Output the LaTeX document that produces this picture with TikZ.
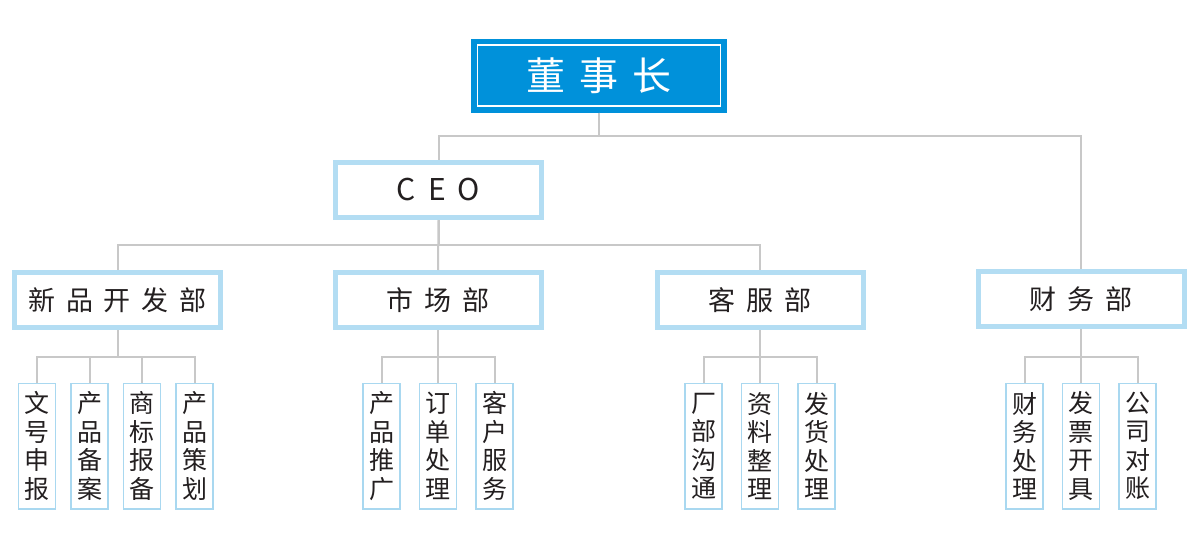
\documentclass[tikz,border=0pt]{standalone}
\usepackage{fontspec}
\setmainfont{Noto Sans CJK SC}
\usetikzlibrary{positioning}
\definecolor{boardblue}{HTML}{0091DA}
\definecolor{frameblue}{HTML}{B3DDF3}
\definecolor{leafblue}{HTML}{A9D8F0}
\definecolor{linkgray}{HTML}{C8C8C8}
\definecolor{inkblack}{HTML}{231F20}
\newcommand{\ws}{\hspace{0.4em}}

\begin{document}
\begin{tikzpicture}[
x=1pt, y=-1pt,
board/.style={rectangle, fill=boardblue, draw=white, line width=1.2pt, preaction={draw=boardblue, line width=13pt}, minimum width=243, minimum height=61, inner sep=0, outer sep=6.5pt, text=white, font=\fontsize{39}{39}\selectfont},
dept/.style={rectangle, draw=frameblue, fill=white, line width=5pt, minimum width=206, minimum height=55, inner sep=0, text=inkblack, font=\fontsize{27}{27}\selectfont},
head/.style={dept, font=\fontsize{30}{30}\selectfont},
leaf/.style={rectangle, draw=leafblue, fill=white, line width=1.5pt, minimum width=37, minimum height=125.5, inner sep=0, align=center, text=inkblack, font=\fontsize{25}{28.5}\selectfont},
link/.style={draw=linkgray, line width=2pt},
node distance=18pt
]
\useasboundingbox (0,0) rectangle (1200,533);
%Nodes
\node[board]  (board)  at (599,75.5)   {董\hspace{14pt}事\hspace{14pt}长};
\node[head]   (ceo)    at (438.5,190)  {C\ws E\ws O};

\node[dept]   (dev)    at (117.5,300)  {新\ws 品\ws 开\ws 发\ws 部};
\node[dept]   (mkt)    at (438,300)    {市\ws 场\ws 部};
\node[dept]   (svc)    at (760,300)    {客\ws 服\ws 部};
\node[dept]   (fin)    at (1081,299)   {财\ws 务\ws 部};

\node[leaf]   (dev1)   at (37,446)              {文\\号\\申\\报};
\node[leaf]   (dev2)   [right=14pt of dev1]     {产\\品\\备\\案};
\node[leaf]   (dev3)   [right=14pt of dev2]     {商\\标\\报\\备};
\node[leaf]   (dev4)   [right=14pt of dev3]     {产\\品\\策\\划};

\node[leaf]   (mkt2)   [below=52.5pt of mkt]    {订\\单\\处\\理};
\node[leaf]   (mkt1)   [left=of mkt2]           {产\\品\\推\\广};
\node[leaf]   (mkt3)   [right=of mkt2]          {客\\户\\服\\务};

\node[leaf]   (svc2)   [below=52.5pt of svc]    {资\\料\\整\\理};
\node[leaf]   (svc1)   [left=of svc2]           {厂\\部\\沟\\通};
\node[leaf]   (svc3)   [right=of svc2]          {发\\货\\处\\理};

\node[leaf]   (fin2)   [below=53.5pt of fin]    {发\\票\\开\\具};
\node[leaf]   (fin1)   [left=of fin2]           {财\\务\\处\\理};
\node[leaf]   (fin3)   [right=of fin2]          {公\\司\\对\\账};

%Lines
\draw[link] (board.south) -- ++(0,23.5) -| (ceo.north);
\draw[link] (board.south) -- ++(0,23.5) -| (fin.north);

\draw[link] (ceo.south) -- ++(0,25) -| (dev.north);
\draw[link] (ceo.south) -- (mkt.north);
\draw[link] (ceo.south) -- ++(0,25) -| (svc.north);

\draw[link] (dev.south) -- ++(0,27) -| (dev1.north);
\draw[link] (dev.south) -- ++(0,27) -| (dev2.north);
\draw[link] (dev.south) -- ++(0,27) -| (dev3.north);
\draw[link] (dev.south) -- ++(0,27) -| (dev4.north);

\draw[link] (mkt.south) -- ++(0,27) -| (mkt1.north);
\draw[link] (mkt.south) -- (mkt2.north);
\draw[link] (mkt.south) -- ++(0,27) -| (mkt3.north);

\draw[link] (svc.south) -- ++(0,27) -| (svc1.north);
\draw[link] (svc.south) -- (svc2.north);
\draw[link] (svc.south) -- ++(0,27) -| (svc3.north);

\draw[link] (fin.south) -- ++(0,28) -| (fin1.north);
\draw[link] (fin.south) -- (fin2.north);
\draw[link] (fin.south) -- ++(0,28) -| (fin3.north);
\end{tikzpicture}
\end{document}
